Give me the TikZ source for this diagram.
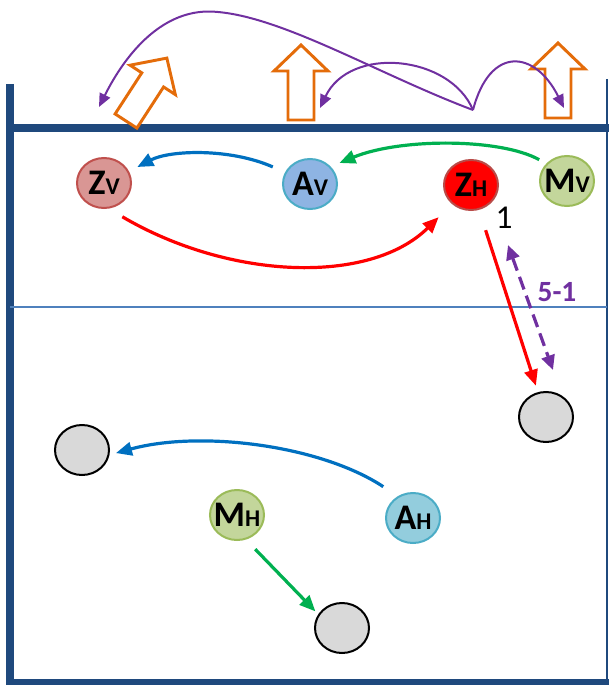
\documentclass[tikz,border=0pt]{standalone}
\usepackage{fontspec}
\setmainfont{Carlito}
\usepackage{tikz}
\usetikzlibrary{arrows.meta, shapes.geometric, calc}

\definecolor{Marco}{RGB}{31,73,125}
\definecolor{Medio}{RGB}{79,129,189}
\definecolor{Morado}{RGB}{112,48,160}
\definecolor{Naranja}{RGB}{228,108,10}
\definecolor{Azul}{RGB}{0,112,192}
\definecolor{Verde}{RGB}{0,176,80}
\definecolor{Gris}{RGB}{217,217,217}
\definecolor{ZvRelleno}{RGB}{217,150,148}
\definecolor{ZvBorde}{RGB}{192,80,77}
\definecolor{AvRelleno}{RGB}{142,180,227}
\definecolor{AhRelleno}{RGB}{147,205,221}
\definecolor{ABorde}{RGB}{75,172,198}
\definecolor{ZhBorde}{RGB}{185,75,72}
\definecolor{MRelleno}{RGB}{195,214,155}
\definecolor{MBorde}{RGB}{155,187,89}

% letra grande + subindice en versalita
\newcommand{\jug}[2]{#1{\fontsize{18}{18}\selectfont #2}}

\tikzset{
  pics/bloque/.style={code={
    \draw[draw=Naranja, fill=white, line width=2.2pt]
      (-13,0) -- (13,0) -- (13,-49) -- (27,-49) -- (0,-75)
      -- (-27,-49) -- (-13,-49) -- cycle;}}}

\begin{document}
\begin{tikzpicture}[x=0.75pt, y=-0.75pt,
    jugador/.style={
        ellipse, draw, line width=1.5pt,
        minimum width=40.5pt, minimum height=37.5pt,
        inner xsep=-8pt, inner ysep=-3pt,
        font=\fontsize{27}{27}\selectfont\bfseries},
    balon/.style={
        ellipse, draw=black, fill=Gris, line width=1.5pt,
        minimum width=40.5pt, minimum height=37.5pt},
    flecha/.style={-{Triangle[length=12pt, width=10pt]}, line width=2.4pt},
    salto/.style={-{Triangle[length=10pt, width=8.5pt]}, line width=1.5pt, color=Morado}]
  \useasboundingbox (0,0) rectangle (609,685);
  % Marco del campo
  \draw[Marco, line width=5.5pt] (10,84) -- (10,685);
  \draw[Marco, line width=5.5pt] (10,128) -- (609,128);
  \draw[Marco, line width=1.5pt] (607,79) -- (607,685);
  \draw[Marco, line width=5pt] (10,682) -- (609,682);
  \draw[Medio, line width=2.2pt] (10,307) -- (607,307);
  % Flechas de bloque
  \pic[rotate=-33] at (126,121) {bloque};
  \pic at (301,120) {bloque};
  \pic at (558,118) {bloque};
  % Jugadores
  \node[jugador, fill=ZvRelleno, draw=ZvBorde] (zv) at (104,183) {\jug{Z}{V}};
  \node[jugador, fill=AvRelleno, draw=ABorde]  (av) at (310,184) {\jug{A}{V}};
  \node[jugador, fill=red, draw=ZhBorde]       (zh) at (471,185) {\jug{Z}{H}};
  \node[jugador, fill=MRelleno, draw=MBorde]   (mv) at (567,181) {\jug{M}{V}};
  \node[jugador, fill=MRelleno, draw=MBorde]   (mh) at (237,515) {\jug{M}{H}};
  \node[jugador, fill=AhRelleno, draw=ABorde]  (ah) at (413,518) {\jug{A}{H}};
  \node[font=\fontsize{25}{25}\selectfont] (uno) at (504,218) {1};
  % Balones
  \node[balon] (b1) at (546,417) {};
  \node[balon] (b2) at (82,450) {};
  \node[balon] (b3) at (342,628) {};
  % Desplazamientos
  \draw[flecha, Azul, shorten <=10pt, shorten >=7pt]
    (av.155) .. controls (230,148) and (170,150) .. (zv.25);
  \draw[flecha, Verde, shorten <=6pt, shorten >=7pt]
    (mv.140) .. controls (500,138) and (400,138) .. (av.40);
  \draw[flecha, red, shorten <=12pt, shorten >=14pt]
    (zv.-80) .. controls (230,280) and (370,285) .. (zh.-135);
  \draw[flecha, red, shorten <=16pt, shorten >=5pt] (zh) -- (b1);
  \draw[flecha, Azul, shorten <=13pt, shorten >=5pt]
    (ah.125) .. controls (320,445) and (200,430) .. (b2.-10);
  \draw[flecha, Verde, shorten <=10pt, shorten >=3pt] (mh.-70) -- (b3.150);
  % Retroceso 5-1
  \coordinate (d1) at (508,245);
  \coordinate (d2) at (553,370);
  \draw[{Triangle[length=11pt, width=10pt]}-{Triangle[length=11pt, width=10pt]},
        Morado, line width=2.4pt, dash pattern=on 10pt off 5pt] (d1) -- (d2);
  \node[font=\fontsize{22}{22}\selectfont\bfseries, text=Morado, fill=white,
        inner sep=1pt] (cinco) at (557,292) {5-1};
  % Saltos sobre la red
  \coordinate (ori) at (473,110);
  \coordinate (t1) at (99,107);
  \coordinate (t2) at (320,108);
  \coordinate (t3) at (564,108);
  \draw[salto] (ori) .. controls (380,75) and (285,18) .. (218,12)
    .. controls (163,6) and (125,55) .. (t1);
  \draw[salto] (ori) .. controls (450,55) and (350,45) .. (t2);
  \draw[salto] (ori) .. controls (490,45) and (535,50) .. (t3);
\end{tikzpicture}
\end{document}
